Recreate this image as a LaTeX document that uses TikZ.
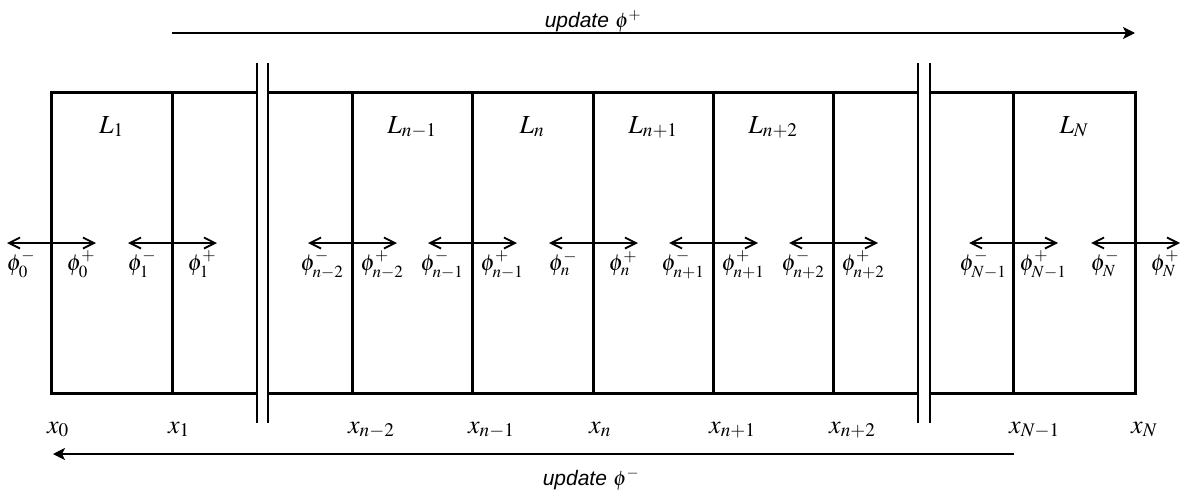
\documentclass[tikz,border=0pt]{standalone}
\usepackage{mathptmx}
\usepackage{fontspec}
\newfontfamily\arialfont{Liberation Sans}
\usetikzlibrary{arrows.meta}
\begin{document}
\begin{tikzpicture}[x=1pt,y=-1pt,
  wall/.style={line width=3pt,line join=miter},
  brk/.style={line width=1.8pt},
  flux/.style={line width=1.8pt,{Straight Barb[length=11pt,width=11pt,line width=1.8pt]}-{Straight Barb[length=11pt,width=11pt,line width=1.8pt]}},
  sweep/.style={line width=2pt,-{Stealth[length=12pt,width=12pt,inset=3pt]}},
  celllab/.style={font=\fontsize{26}{30}\selectfont, anchor=base, inner sep=0pt},
  philab/.style={font=\fontsize{23}{27}\selectfont, anchor=base, inner sep=0pt},
  xlab/.style={font=\fontsize{26}{30}\selectfont, anchor=base west, inner sep=0pt},
  updlab/.style={font=\fontsize{21}{25}\selectfont, anchor=base, inner sep=0pt}]
\useasboundingbox (0,0) rectangle (1186,498);
% outer walls
\draw[wall] (257,92) -- (51,92) -- (51,393) -- (257,393);
\draw[wall] (268,92) -- (918,92);
\draw[wall] (268,393) -- (918,393);
\draw[wall] (930,92) -- (1135,92) -- (1135,393) -- (930,393);
% interior walls
\foreach \xx in {172,352,472,593,713,833,1013}
  \draw[wall] (\xx,92) -- (\xx,393);
% break marks
\foreach \xx/\nm in {257/b1,268/b2,918/b3,930/b4}{
  \coordinate (\nm t) at (\xx,63);
  \coordinate (\nm b) at (\xx,423);
  \draw[brk] (\nm t) -- (\nm b);
}
% layer labels
\node[celllab] (L1) at (111.5,133) {$L_1$};
\node[celllab] (Lm1) at (412,133) {$L_{n-1}$};
\node[celllab] (Ln) at (532,133) {$L_n$};
\node[celllab] (Lp1) at (653,133) {$L_{n+1}$};
\node[celllab] (Lp2) at (773,133) {$L_{n+2}$};
\node[celllab] (LN) at (1074,133) {$L_N$};
% fluxes at interfaces
\foreach \xx/\s/\nm in {51/0/fa,172/1/fb,352/{n-2}/fc,472/{n-1}/fd,593/n/fe,713/{n+1}/ff,833/{n+2}/fg,1013/{N-1}/fh,1135/N/fi}{
  \coordinate (\nm l) at (\xx-44,243);
  \coordinate (\nm r) at (\xx+45,243);
  \draw[flux] (\nm l) -- (\nm r);
  \node[philab] (\nm m) at (\xx-30,270) {$\phi^-_{\s}$};
  \node[philab] (\nm p) at (\xx+30,270) {$\phi^+_{\s}$};
  \node[xlab] (\nm x) at (\xx-4,433) {$x_{\s}$};
}
% sweeps
\coordinate (ts) at (172,33);
\coordinate (te) at (1135,33);
\draw[sweep] (ts) -- (te);
\node[updlab] (tu) at (593,27) {{\arialfont\itshape update} $\phi^+$};
\coordinate (bs) at (1014,454);
\coordinate (be) at (53,454);
\draw[sweep] (bs) -- (be);
\node[updlab] (bu) at (591,485) {{\arialfont\itshape update} $\phi^-$};
\end{tikzpicture}
\end{document}
